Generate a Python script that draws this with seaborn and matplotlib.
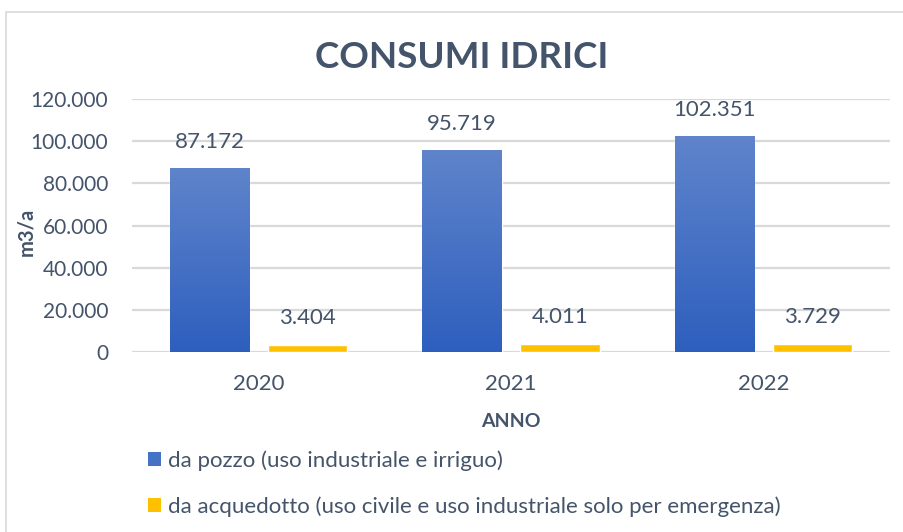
import matplotlib
matplotlib.use("Agg")
import matplotlib.pyplot as plt
import seaborn as sns
import pandas as pd
import numpy as np
from matplotlib.patches import Rectangle, Patch
from matplotlib.ticker import FuncFormatter
from matplotlib.colors import LinearSegmentedColormap

years = ["2020", "2021", "2022"]
pozzo = [87172, 95719, 102351]
acquedotto = [3404, 4011, 3729]
series_names = ["da pozzo (uso industriale e irriguo)",
                "da acquedotto (uso civile e uso industriale solo per emergenza)"]

df = pd.DataFrame({
    "anno": years * 2,
    "valore": pozzo + acquedotto,
    "serie": [series_names[0]] * 3 + [series_names[1]] * 3,
})

sns.set_theme(style="white")
plt.rcParams["font.family"] = ["Lato", "DejaVu Sans"]
TXT = "#44546A"
BLUE = "#4472C4"
YEL = "#FFC000"

fig = plt.figure(figsize=(9.04, 5.32), dpi=100)
ax = fig.add_axes([132/904, 1-352/532, (890-132)/904, (352-99)/532])

sns.barplot(data=df, x="anno", y="valore", hue="serie", order=years,
            hue_order=series_names, palette=[BLUE, YEL], width=0.775, gap=0.19,
            ax=ax, legend=False, saturation=1)

ax.set_ylim(0, 120000)
ax.set_yticks(np.arange(0, 120001, 20000))
fmt = lambda v: f"{int(round(v)):,}".replace(",", ".")
ax.yaxis.set_major_formatter(FuncFormatter(lambda v, p: fmt(v)))
ax.grid(axis="y", color="#D9D9D9", linewidth=1.6)
ax.set_axisbelow(True)
for s in ax.spines.values():
    s.set_visible(False)
ax.tick_params(axis="both", length=0, colors=TXT)
ax.tick_params(axis="x", pad=16, labelsize=16)
ax.tick_params(axis="y", pad=17, labelsize=15)

# gradient on blue bars
patches = ax.patches
grad = np.linspace(0, 1, 256).reshape(-1, 1)
cmap = LinearSegmentedColormap.from_list("g", ["#2E5FBE", "#5F84CB"])
for p in patches[:3]:
    x0, y0 = p.get_x(), p.get_y()
    w, h = p.get_width(), p.get_height()
    im = ax.imshow(grad, extent=[x0, x0 + w, y0, y0 + h], origin="lower",
                   cmap=cmap, aspect="auto", zorder=p.get_zorder())
    im.set_clip_path(p)
ax.set_xlim(-0.5, 2.5)
ax.set_ylim(0, 120000)

for c in ax.containers:
    ax.bar_label(c, labels=[fmt(v) for v in c.datavalues], padding=12,
                 fontsize=16, color=TXT)

ax.set_xlabel("ANNO", fontsize=14, fontweight="bold", color=TXT)
ax.xaxis.set_label_coords(0.5, (352 - 413) / 253)
ax.set_ylabel("m3/a", fontsize=14.5, fontweight="bold", color=TXT)
ax.yaxis.set_label_coords((36 - 132) / 758, (352 - 232) / 253)

fig.text(462/904, 1-57/532, "CONSUMI IDRICI", ha="center", va="center",
         fontsize=26.5, fontweight="bold", color=TXT)

handles = [Patch(facecolor=BLUE, edgecolor="none"), Patch(facecolor=YEL, edgecolor="none")]
fig.legend(handles, series_names, loc="upper left", bbox_to_anchor=(128/904, 1-430/532),
           frameon=False, fontsize=16, labelcolor=TXT, handlelength=0.6,
           handleheight=0.6, handletextpad=0.3, labelspacing=1.15)

fig.patches.append(Rectangle((6/904, -0.05), 1.1, 1.05 - 12/532, transform=fig.transFigure,
                             fill=False, edgecolor="#D9D9D9", linewidth=1.2))

fig.savefig("out.png", dpi=100)
